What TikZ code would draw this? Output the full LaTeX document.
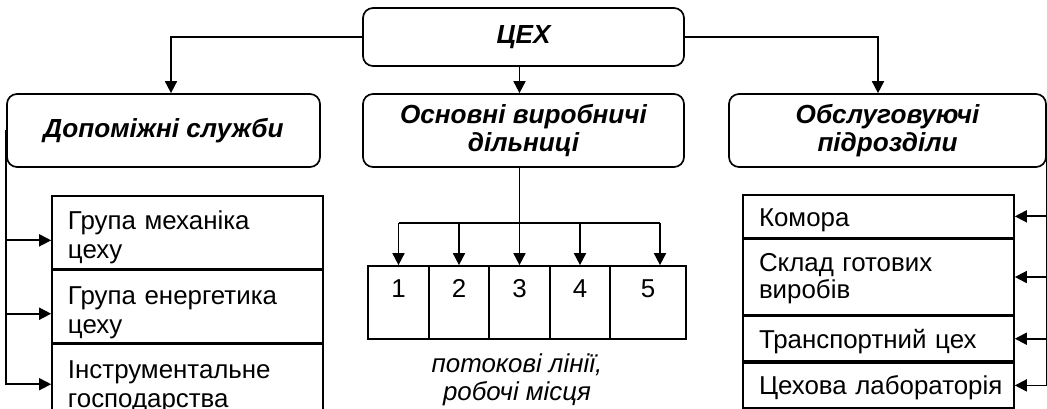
\documentclass[tikz,border=0pt]{standalone}
\usepackage{fontspec}
\setmainfont{Liberation Sans}
\usetikzlibrary{arrows.meta, positioning}

\begin{document}
\begin{tikzpicture}[
    head/.style={rectangle, rounded corners=0.25cm, draw, line width=1.2pt, font=\fontsize{18.6pt}{19.5pt}\selectfont\bfseries\itshape, align=center},
    item/.style={rectangle, draw, fill=white, line width=1.2pt, text width=5.975cm, inner xsep=0.4cm, inner ysep=0pt, align=left, text height=0.85cm, font=\fontsize{18.4pt}{20.5pt}\selectfont},
    cell/.style={rectangle, draw, line width=1.2pt, minimum height=1.825cm, inner xsep=0pt, inner ysep=0.35cm, text height=0.45cm, text depth=0.675cm, font=\fontsize{18.4pt}{19.5pt}\selectfont},
    arr/.style={-{Triangle[length=0.3cm, width=0.3cm]}, line width=1.2pt},
]
\useasboundingbox (0,0) rectangle (26.175,-10.225);

% верхній рівень
\node[head, minimum width=8.025cm, minimum height=1.45cm] (ceh) at (13.0875,-0.925) {ЦЕХ};

% другий рівень
\node[head, minimum width=7.825cm, minimum height=1.825cm] (dop) at (4.0875,-3.2625) {Допоміжні служби};
\node[head, minimum width=8.025cm, minimum height=1.825cm] (osn) at (13.0875,-3.2625) {Основні виробничі\\дільниці};
\node[head, minimum width=7.925cm, minimum height=1.825cm] (obs) at (22.1875,-3.2625) {Обслуговуючі\\підрозділи};

% допоміжні служби
\node[item, text depth=0.975cm, anchor=north] (g1) at (4.6875,-4.875) {Група механіка\\цеху};
\node[item, text depth=0.95cm, below=0pt of g1] (g2) {Група енергетика\\цеху};
\node[item, text depth=0.95cm, below=0pt of g2] (g3) {Інструментальне\\господарства};

% дільниці
\node[cell, minimum width=1.525cm] (c1) at (9.9625,-7.5625) {1};
\node[cell, minimum width=1.5cm]   (c2) at (11.475,-7.5625) {2};
\node[cell, minimum width=1.525cm] (c3) at (12.9875,-7.5625) {3};
\node[cell, minimum width=1.5cm]   (c4) at (14.5,-7.5625) {4};
\node[cell, minimum width=1.9cm]   (c5) at (16.2,-7.5625) {5};
\node[font=\fontsize{18.4pt}{19.5pt}\selectfont\itshape, align=center] (cap) at (12.925,-9.5) {потокові лінії,\\робочі місця};

% обслуговуючі підрозділи
\node[item, text height=0.8cm, text depth=0.275cm, anchor=north] (k1) at (21.9625,-4.85) {Комора};
\node[item, text height=0.8cm, text depth=1.075cm, below=0pt of k1, font=\fontsize{18.4pt}{19pt}\selectfont] (k2) {Склад готових\\виробів};
\node[item, text height=0.8cm, text depth=0.325cm, below=0pt of k2] (k3) {Транспортний цех};
\node[item, text height=0.8cm, text depth=0.325cm, below=0pt of k3] (k4) {Цехова~лабораторія};

% стрілки від цеху
\draw[arr] (ceh.west) -| ([xshift=0.1875cm]dop.north);
\draw[arr] (ceh.south -| c3.north) -- (osn.north -| c3.north);
\draw[arr] (ceh.east) -| ([xshift=-0.2375cm]obs.north);

% розгалуження на дільниці
\coordinate (br) at (12.9875,-5.575);
\coordinate (br5) at (16.5,-5.575);
\draw[line width=1.2pt] (osn.south -| c3.north) -- (br);
\draw[line width=1.2pt] (br -| c1.north) -- (br5);
\foreach \c in {c1,c2,c3,c4}
    \draw[arr] (br -| \c.north) -- (\c.north);
\draw[arr] (br5) -- (br5 |- c5.north);

% ліва гілка
\foreach \g/\s in {g1/-0.2, g2/-0.18, g3/-0.1}
    \draw[arr] (dop.west) |- ([yshift=\s cm]\g.west);

% права гілка
\foreach \k in {k1,k2,k3,k4}
    \draw[arr] (obs.east) |- (\k.east);

\end{tikzpicture}
\end{document}
